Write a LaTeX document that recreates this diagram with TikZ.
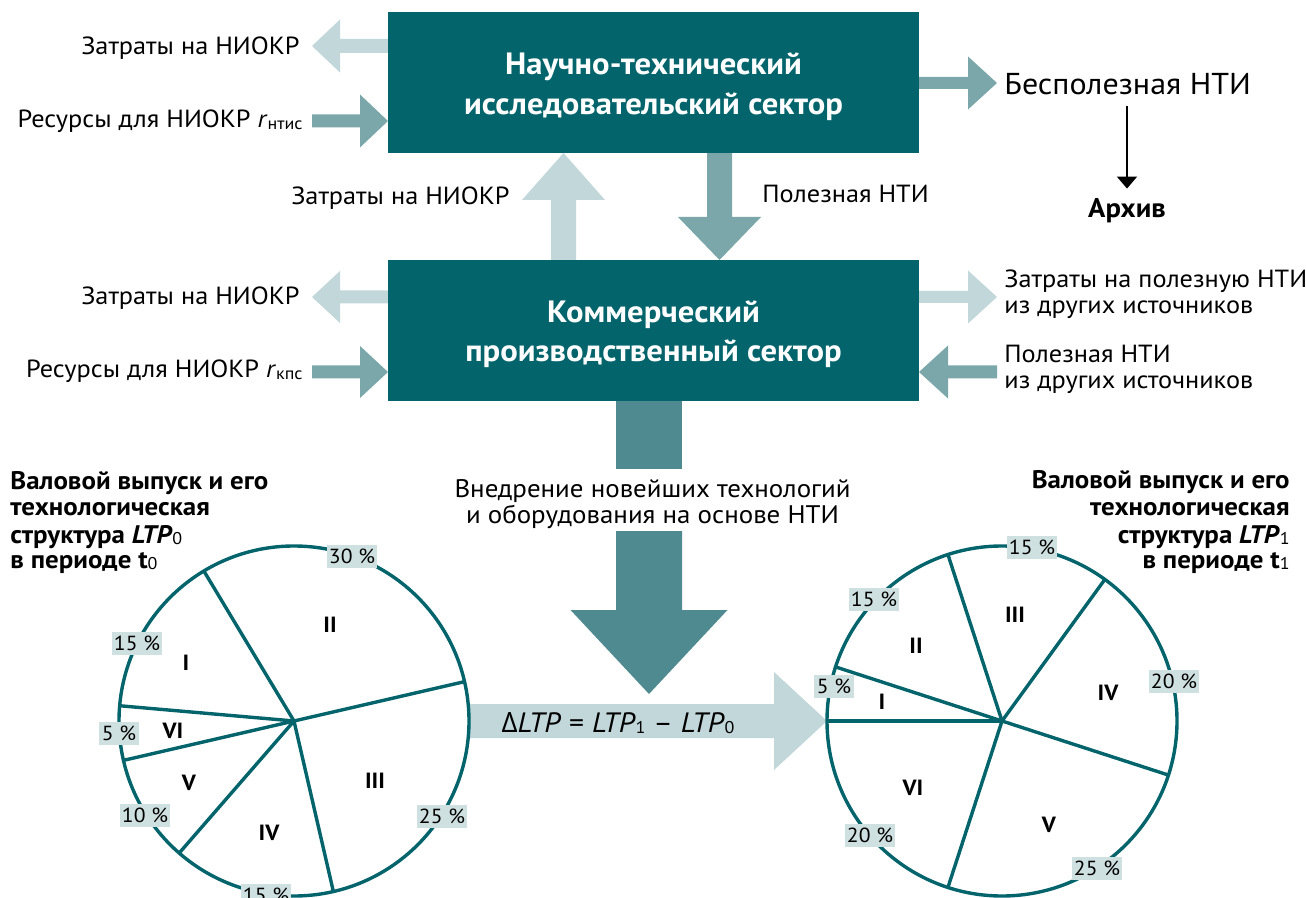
\documentclass[tikz,border=0pt]{standalone}
\usepackage{fontspec}
\setmainfont{PT Sans}[FakeStretch=1.06]
\newfontfamily\grk{Open Sans}
\usetikzlibrary{arrows.meta}
\definecolor{boxc}{HTML}{03646C}
\definecolor{lightc}{HTML}{C1D7DA}
\definecolor{medc}{HTML}{7BA7AB}
\definecolor{bigc}{HTML}{4F8A90}
\definecolor{pctc}{HTML}{CFE0E1}
% horizontal block arrow: colour, tail x, head-base x, tip x, y, shaft half, head half
\newcommand\HArr[7]{\fill[#1] (#2,#5-#6) -- (#3,#5-#6) -- (#3,#5-#7) -- (#4,#5) -- (#3,#5+#7) -- (#3,#5+#6) -- (#2,#5+#6) -- cycle;}
% vertical block arrow: colour, tail y, head-base y, tip y, x, shaft half, head half
\newcommand\VArr[7]{\fill[#1] (#5-#6,#2) -- (#5-#6,#3) -- (#5-#7,#3) -- (#5,#4) -- (#5+#7,#3) -- (#5+#6,#3) -- (#5+#6,#2) -- cycle;}
\newcommand\sub[1]{\raisebox{-0.8pt}{\fontsize{8.5}{9}\selectfont\mdseries\upshape #1}}
\begin{document}
\begin{tikzpicture}[x=0.5pt,y=-0.5pt,
  box/.style={fill=boxc, minimum width=265.5pt, minimum height=70.5pt, inner sep=0pt},
  boxtxt/.style={text=white, font=\fontsize{15.4}{18}\selectfont\bfseries, inner sep=0pt},
  lbl/.style={font=\fontsize{12.4}{15}\selectfont, inner sep=0pt},
  biglbl/.style={font=\fontsize{15.1}{18}\selectfont, inner sep=0pt},
  pct/.style={fill=pctc, font=\fontsize{10.2}{11}\selectfont, minimum width=25pt, minimum height=11.5pt, inner sep=0pt},
  rom/.style={font=\fontsize{11}{12}\selectfont\bfseries, inner sep=0pt},
  ttl/.style={font=\fontsize{12.7}{14}\selectfont\bfseries, inner sep=0pt},
  pieline/.style={draw=boxc, line width=1.7pt},
  thinarr/.style={line width=1pt, -{Triangle[width=10pt,length=6pt]}},
]
\useasboundingbox (0,0) rectangle (1306,898);
% ---------- block arrows ----------
\HArr{lightc}{388}{340}{312}{46}{7}{26.5}
\HArr{medc}{312}{360}{388}{121}{6.5}{26.5}
\HArr{medc}{919}{968}{997}{83}{6}{26.5}
\HArr{lightc}{388}{340}{312}{297}{6.5}{26}
\HArr{medc}{312}{360}{388}{372}{6.5}{26}
\HArr{lightc}{919}{968}{997}{297}{6}{26.5}
\HArr{medc}{997}{948}{919}{372}{6.5}{26.5}
\VArr{lightc}{260}{200}{153}{563.5}{12.5}{41.5}
\VArr{medc}{153}{217}{260}{719.5}{12.5}{41.5}
\fill[bigc] (616,401) rectangle (682,469);
\VArr{bigc}{531}{610}{694}{649}{33}{78.5}
\HArr{lightc}{470}{774}{827}{721}{17}{49}
% ---------- sector boxes ----------
\node[box] (nti) at (653.5,82.5) {};
\node[boxtxt, anchor=base] (nti1) at (653.5,75) {Научно-технический};
\node[boxtxt, anchor=base] (nti2) at (653.5,115) {исследовательский сектор};
\node[box] (kps) at (653.5,330.5) {};
\node[boxtxt, anchor=base] (kps1) at (653.5,323) {Коммерческий};
\node[boxtxt, anchor=base] (kps2) at (653.5,362) {производственный сектор};
% ---------- labels ----------
\node[lbl, anchor=base east] (z1) at (300,55) {Затраты на НИОКР};
\node[lbl, anchor=base east] (r1) at (303,128) {Ресурсы для НИОКР \textit{r}\sub{нтис}};
\node[lbl, anchor=base east] (z2) at (300,305) {Затраты на НИОКР};
\node[lbl, anchor=base east] (r2) at (303,378) {Ресурсы для НИОКР \textit{r}\sub{кпс}};
\node[lbl, anchor=base east] (z3) at (510,205) {Затраты на НИОКР};
\node[lbl, anchor=base west] (p1) at (762,203) {Полезная НТИ};
\node[biglbl, anchor=base west] (bes) at (1004,95) {Бесполезная НТИ};
\node[font=\fontsize{13.5}{15}\selectfont\bfseries, inner sep=0pt, anchor=base] (arh) at (1127,218) {Архив};
\draw[thinarr, shorten <=5pt, shorten >=5pt] (bes.south -| arh.north) -- (arh.north);
\node[lbl, anchor=base west] (zp1) at (1004,288) {Затраты на полезную НТИ};
\node[lbl, anchor=base west] (zp2) at (1004,314) {из других источников};
\node[lbl, anchor=base west] (pn1) at (1004,363) {Полезная НТИ};
\node[lbl, anchor=base west] (pn2) at (1004,389) {из других источников};
\node[lbl, font=\fontsize{12.7}{15}\selectfont, anchor=base] (vn1) at (652.5,497) {Внедрение новейших технологий};
\node[lbl, font=\fontsize{12.7}{15}\selectfont, anchor=base] (vn2) at (652.5,523) {и оборудования на основе НТИ};
\node[font=\fontsize{14}{16}\selectfont, inner sep=0pt, anchor=base] (dltp) at (618,732)
  {{\grk Δ}\textit{LTP} = \textit{LTP}\sub{1} – \textit{LTP}\sub{0}};
% ---------- titles ----------
\node[ttl, anchor=base west] (lt1) at (10,489) {Валовой выпуск и его};
\node[ttl, anchor=base west] (lt2) at (10,515) {технологическая};
\node[ttl, anchor=base west] (lt3) at (10,543) {структура \textit{LTP}\sub{0}};
\node[ttl, anchor=base west] (lt4) at (10,568) {в периоде t\sub{0}};
\node[ttl, anchor=base east] (rt1) at (1290,488) {Валовой выпуск и его};
\node[ttl, anchor=base east] (rt2) at (1290,515) {технологическая};
\node[ttl, anchor=base east] (rt3) at (1290,543) {структура \textit{LTP}\sub{1}};
\node[ttl, anchor=base east] (rt4) at (1290,568) {в периоде t\sub{1}};
% ---------- left pie ----------
\coordinate (c0) at (294,721);
\draw[pieline, fill=white] (c0) circle[radius=87.5pt];
\foreach \a in {13,121,175,193,229,283} \draw[pieline] (c0) -- ++(-\a:175);
\node[rom] (l2) at (330,625) {II};
\node[rom] (l1) at (186,663) {I};
\node[rom] (l6) at (173,731) {VI};
\node[rom] (l5) at (189,783) {V};
\node[rom] (l4) at (269,833) {IV};
\node[rom] (l3) at (375,781) {III};
\node[pct] (lp2) at (352,556) {30 \%};
\node[pct] (lp1) at (137,643) {15 \%};
\node[pct, minimum width=20pt] (lp6) at (119,733) {5 \%};
\node[pct] (lp5) at (145,815) {10 \%};
\node[pct] (lp4) at (266,895) {15 \%};
\node[pct] (lp3) at (442,816) {25 \%};
% ---------- right pie ----------
\coordinate (c1) at (1002,721);
\draw[pieline, fill=white] (c1) circle[radius=87.5pt];
\foreach \a in {180,162,108,54,-18,-108} \draw[pieline] (c1) -- ++(-\a:175);
\node[rom] (r3) at (1015,615) {III};
\node[rom] (r2) at (916,646) {II};
\node[rom] (r1) at (882,702) {I};
\node[rom] (r4) at (1108,693) {IV};
\node[rom] (r6) at (913,788) {VI};
\node[rom] (r5) at (1049,825) {V};
\node[pct] (rp3) at (1032,547) {15 \%};
\node[pct] (rp2) at (874,599) {15 \%};
\node[pct, minimum width=20pt] (rp1) at (834,686) {5 \%};
\node[pct] (rp4) at (1174,681) {20 \%};
\node[pct] (rp6) at (870,835) {20 \%};
\node[pct] (rp5) at (1097,868) {25 \%};
\end{tikzpicture}
\end{document}
